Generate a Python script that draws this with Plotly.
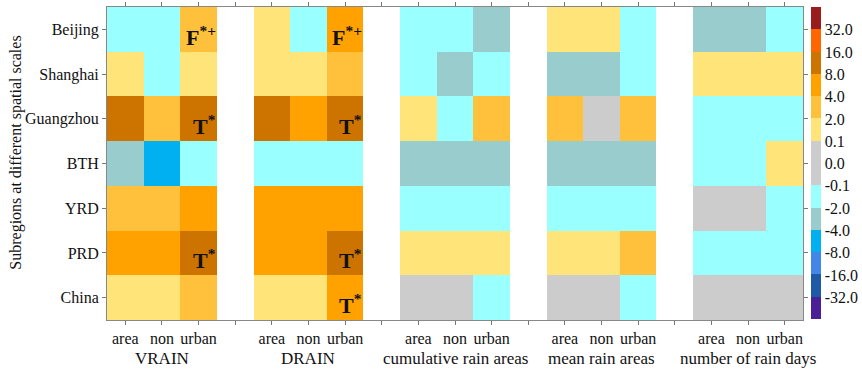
import numpy as np
import plotly.graph_objects as go

# Subregions (rows, top to bottom) and the five rainfall metrics (column groups)
regions = ["Beijing", "Shanghai", "Guangzhou", "BTH", "YRD", "PRD", "China"]
metrics = ["VRAIN", "DRAIN", "cumulative rain areas", "mean rain areas", "number of rain days"]
sub_cols = ["area", "non", "urban"]

# Relative change (%) per region for each metric: area / non-urban / urban
vrain_area = [-1.2, 1.1, 11.8, -2.6, 3.2, 5.9, 1.0]
vrain_non = [-0.9, -1.1, 3.4, -5.3, 3.0, 5.4, 0.9]
vrain_urban = [3.3, 0.8, 12.6, -0.7, 6.2, 10.4, 2.6]

drain_area = [1.2, 1.0, 10.9, -1.0, 5.1, 5.3, 1.1]
drain_non = [-0.8, 0.9, 6.4, -1.3, 5.0, 4.9, 1.2]
drain_urban = [6.8, 2.7, 12.1, -1.1, 6.0, 11.2, 5.5]

cum_area = [-0.9, -1.0, 1.4, -2.4, -1.1, 1.2, 0.04]
cum_non = [-1.1, -2.3, -0.8, -2.5, -1.2, 1.1, -0.03]
cum_urban = [-2.7, -1.3, 2.9, -2.2, -0.9, 1.3, -0.6]

mean_area = [1.0, -2.2, 2.6, -2.9, -0.7, 0.9, 0.03]
mean_non = [0.8, -2.4, 0.02, -2.6, -0.8, 1.0, -0.02]
mean_urban = [-0.6, -1.2, 2.4, -2.3, -1.0, 2.2, -0.5]

days_area = [-2.4, 1.5, -1.3, -0.9, 0.05, -1.1, 0.02]
days_non = [-2.6, 1.3, -1.2, -1.0, -0.04, -1.0, 0.03]
days_urban = [-1.4, 1.6, -0.9, 0.6, -0.5, -0.8, -0.03]

# Trend markers: (metric, sub column, region, letter, superscript)
markers = [
    ("VRAIN", "urban", "Beijing", "F", "*+"),
    ("VRAIN", "urban", "Guangzhou", "T", "*"),
    ("VRAIN", "urban", "PRD", "T", "*"),
    ("DRAIN", "urban", "Beijing", "F", "*+"),
    ("DRAIN", "urban", "Guangzhou", "T", "*"),
    ("DRAIN", "urban", "PRD", "T", "*"),
    ("DRAIN", "urban", "China", "T", "*"),
]

# Class boundaries and colours of the discrete scale
bounds = [-32.0, -16.0, -8.0, -4.0, -2.0, -0.1, 0.0, 0.1, 2.0, 4.0, 8.0, 16.0, 32.0]
bound_labels = ["-32.0", "-16.0", "-8.0", "-4.0", "-2.0", "-0.1", "0.0", "0.1",
                "2.0", "4.0", "8.0", "16.0", "32.0"]
class_colors = ["#4B1F96", "#1F5AA6", "#4287E8", "#00B0F0", "#99CCCC", "#99FFFF",
                "#CCCCCC", "#CCCCCC", "#FFE47A", "#FFC13B", "#FFA200", "#CC7300",
                "#FF6600", "#9A1C1C"]

groups = [
    [vrain_area, vrain_non, vrain_urban],
    [drain_area, drain_non, drain_urban],
    [cum_area, cum_non, cum_urban],
    [mean_area, mean_non, mean_urban],
    [days_area, days_non, days_urban],
]

n_cls = len(class_colors)
colorscale = []
for i, c in enumerate(class_colors):
    colorscale.append([i / n_cls, c])
    colorscale.append([(i + 1) / n_cls, c])

# Assemble the grid: 3 columns per metric, one blank column between metrics
n_cols = len(groups) * 4 - 1
z = np.full((len(regions), n_cols), np.nan)
col_of = {}
for g, cols in enumerate(groups):
    for j, vals in enumerate(cols):
        x = g * 4 + j
        col_of[(metrics[g], sub_cols[j])] = x
        cls = np.digitize(np.array(vals), bounds)
        z[:, x] = cls + 0.5

data_cols = [i for i in range(n_cols) if i % 4 < 3]
gap_cols = [i for i in range(n_cols) if i % 4 == 3]
ticktext = [sub_cols[i % 4] for i in data_cols]

serif = "Liberation Serif, Times New Roman, serif"
FS = 16

fig = go.Figure(go.Heatmap(
    z=z,
    x=list(range(n_cols)),
    y=list(range(len(regions))),
    zmin=0, zmax=n_cls,
    colorscale=colorscale,
    hoverinfo="skip",
    colorbar=dict(
        x=1.0115, xanchor="left", xpad=0,
        y=0.5, yanchor="middle", len=0.997, lenmode="fraction", ypad=0,
        thickness=10, outlinewidth=0,
        tickvals=list(range(1, n_cls)), ticktext=bound_labels,
        ticks="", ticklen=0,
        tickfont=dict(family=serif, size=FS, color="#111111"),
    ),
))

annotations = []
for metric, sub, region, letter, sup in markers:
    annotations.append(dict(
        x=col_of[(metric, sub)] + 0.5, y=regions.index(region) + 0.5,
        xref="x", yref="y", xanchor="right", yanchor="bottom",
        text=f"<b>{letter}<sup>{sup}</sup></b>", showarrow=False,
        font=dict(family=serif, size=22, color="#111111"),
        borderpad=0, yshift=1,
    ))

for g, name in enumerate(metrics):
    annotations.append(dict(
        x=g * 4 + 1, y=-0.122, xref="x", yref="paper",
        xanchor="center", yanchor="middle", text=name, showarrow=False,
        font=dict(family=serif, size=17, color="#111111"),
    ))

annotations.append(dict(
    x=-0.132, y=0.535, xref="paper", yref="paper", textangle=-90,
    xanchor="center", yanchor="middle",
    text="Subregions at different spatial scales", showarrow=False,
    font=dict(family=serif, size=FS, color="#111111"),
))

fig.update_layout(
    width=862, height=373,
    margin=dict(l=107, r=59, t=2, b=53),
    paper_bgcolor="white", plot_bgcolor="white",
    annotations=annotations,
    showlegend=False,
)
fig.update_xaxes(
    range=[-0.5, n_cols - 0.5], tickvals=data_cols, ticktext=ticktext,
    ticks="outside", ticklen=4, tickcolor="#777777",
    minor=dict(tickvals=gap_cols, ticks="outside", ticklen=4, tickcolor="#777777"),
    showline=True, linecolor="#888888", linewidth=1, mirror="allticks",
    showgrid=False, zeroline=False,
    tickfont=dict(family=serif, size=FS, color="#111111"),
)
fig.update_yaxes(
    range=[len(regions) - 0.5, -0.5], tickvals=list(range(len(regions))), ticktext=regions,
    ticks="outside", ticklen=4, tickcolor="#777777",
    showline=True, linecolor="#888888", linewidth=1, mirror="allticks",
    showgrid=False, zeroline=False,
    tickfont=dict(family=serif, size=FS, color="#111111"),
)

fig.write_html("out.html")
